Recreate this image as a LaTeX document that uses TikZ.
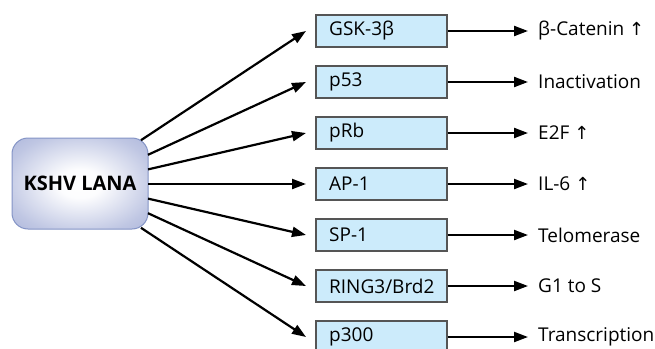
\documentclass[tikz,border=0pt]{standalone}
\usepackage{fontspec}
\setmainfont{Open Sans}
\newfontfamily\sym{DejaVu Sans}
\usetikzlibrary{arrows.meta}
\definecolor{boxblue}{HTML}{CCEBFB}
\definecolor{boxedge}{HTML}{555555}
\definecolor{lanaout}{HTML}{9DA8D4}
\definecolor{lanaedge}{HTML}{8494C6}
\pgfdeclareradialshading{lanashade}{\pgfpoint{0bp}{0bp}}{color(0bp)=(white); color(8bp)=(white!97!lanaout); color(28bp)=(lanaout!65!white); color(45bp)=(lanaout); color(50bp)=(lanaout)}
\newcommand{\upar}{{\sym\fontsize{18}{20}\selectfont ↑}}
\tikzset{
  target/.style={draw=boxedge, fill=boxblue, line width=1.4pt, minimum width=131pt, minimum height=32pt, inner sep=0pt},
  lbl/.style={anchor=west, inner sep=0pt, font=\fontsize{19}{22}\selectfont},
  arr/.style={line width=2.2pt, -{Triangle[length=14pt,width=10pt]}},
}
\begin{document}
\begin{tikzpicture}[x=1pt,y=-1pt]
\useasboundingbox (0,0) rectangle (655,348);
\node[draw=lanaedge, line width=1pt, rounded corners=16pt, minimum width=136pt, minimum height=91pt, shading=lanashade, font=\bfseries\fontsize{20}{22}\selectfont] (lana) at (80,183.5) {KSHV LANA};
\foreach \i/\nm/\res [count=\k from 0] in {gsk/GSK-3β/β-Catenin \upar, p53/p53/Inactivation, prb/pRb/E2F \upar, ap1/AP-1/IL-6 \upar, sp1/SP-1/Telomerase, ring/{RING3/Brd2}/G1 to S, p300/p300/Transcription}{
  \pgfmathsetmacro{\yy}{31+51*\k}
  \node[target] (b\i) at (381.5,\yy) {};
  \node[lbl] (t\i) at (329,\yy) {\nm};
  \node[lbl] (r\i) at (538,\yy) {\res};
  \coordinate (e\i) at (528,\yy);
  \pgfmathsetmacro{\sy}{184+14.6*(\k-3)}
  \pgfmathsetmacro{\sx}{ifthenelse(abs(\k-3)>2.5,141,148)}
  \coordinate (s\i) at (\sx,\sy);
  \coordinate (f\i) at (306,\yy);
  \draw[arr] (s\i) -- (f\i);
  \draw[arr] (b\i.east) -- (e\i);
}
\end{tikzpicture}
\end{document}
